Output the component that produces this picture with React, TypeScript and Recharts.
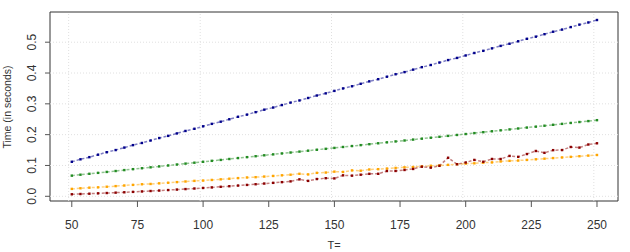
import React from "react";
import { LineChart, Line, XAxis, YAxis, ReferenceLine, ReferenceArea } from "recharts";

// problem size T (x axis)
const T = [
  50, 53.3, 56.7, 60, 63.3, 66.7, 70, 73.3, 76.7, 80, 83.3, 86.7, 90, 93.3, 96.7,
  100, 103.3, 106.7, 110, 113.3, 116.7, 120, 123.3, 126.7, 130, 133.3, 136.7, 140, 143.3, 146.7,
  150, 153.3, 156.7, 160, 163.3, 166.7, 170, 173.3, 176.7, 180, 183.3, 186.7, 190, 193.3, 196.7,
  200, 203.3, 206.7, 210, 213.3, 216.7, 220, 223.3, 226.7, 230, 233.3, 236.7, 240, 243.3, 246.7, 250,
];

const blueTimes = [
  0.112, 0.12, 0.127, 0.135, 0.143, 0.15, 0.158, 0.166, 0.173, 0.181, 0.189, 0.196, 0.204, 0.212, 0.219,
  0.227, 0.235, 0.242, 0.25, 0.258, 0.265, 0.273, 0.281, 0.288, 0.296, 0.304, 0.311, 0.319, 0.327, 0.334,
  0.342, 0.35, 0.357, 0.365, 0.373, 0.38, 0.388, 0.396, 0.403, 0.411, 0.419, 0.426, 0.434, 0.442, 0.449,
  0.457, 0.465, 0.472, 0.48, 0.488, 0.495, 0.503, 0.511, 0.518, 0.526, 0.534, 0.541, 0.549, 0.557, 0.564, 0.572,
];

const greenTimes = [
  0.067, 0.07, 0.073, 0.076, 0.079, 0.082, 0.085, 0.088, 0.091, 0.094, 0.097, 0.1, 0.103, 0.106, 0.109,
  0.112, 0.115, 0.118, 0.121, 0.124, 0.127, 0.13, 0.133, 0.136, 0.139, 0.142, 0.145, 0.148, 0.151, 0.154,
  0.157, 0.16, 0.163, 0.166, 0.169, 0.172, 0.175, 0.178, 0.181, 0.184, 0.187, 0.19, 0.193, 0.196, 0.199,
  0.202, 0.205, 0.208, 0.211, 0.214, 0.217, 0.22, 0.223, 0.226, 0.229, 0.232, 0.235, 0.238, 0.241, 0.244, 0.247,
];

const orangeTimes = [
  0.024, 0.026, 0.028, 0.029, 0.031, 0.033, 0.035, 0.037, 0.039, 0.04, 0.042, 0.044, 0.046, 0.048, 0.05,
  0.051, 0.053, 0.055, 0.057, 0.059, 0.061, 0.062, 0.064, 0.066, 0.068, 0.07, 0.073, 0.071, 0.076, 0.077,
  0.08, 0.079, 0.084, 0.083, 0.087, 0.088, 0.09, 0.092, 0.094, 0.095, 0.097, 0.099, 0.1, 0.102, 0.104,
  0.106, 0.107, 0.109, 0.11, 0.113, 0.115, 0.116, 0.118, 0.12, 0.122, 0.124, 0.126, 0.128, 0.13, 0.132, 0.134,
];

const redTimes = [
  0.0065, 0.0074, 0.0084, 0.0095, 0.0106, 0.0118, 0.013, 0.0143, 0.0157, 0.0171, 0.0186, 0.0202, 0.0218, 0.0234, 0.0252,
  0.027, 0.0288, 0.0308, 0.0327, 0.0348, 0.0369, 0.0391, 0.0413, 0.0436, 0.0459, 0.0484, 0.055, 0.05, 0.056, 0.0587,
  0.058, 0.068, 0.067, 0.07, 0.0729, 0.073, 0.082, 0.0822, 0.0854, 0.0887, 0.096, 0.093, 0.0989, 0.125, 0.104,
  0.1097, 0.118, 0.112, 0.1211, 0.121, 0.131, 0.128, 0.1371, 0.147, 0.141, 0.1497, 0.15, 0.16, 0.158, 0.168, 0.172,
];

const xTicks = [50, 75, 100, 125, 150, 175, 200, 225, 250];
const yTicks = [0, 0.1, 0.2, 0.3, 0.4, 0.5];
const gridX = [48.8, 98.9, 148.9, 198.9, 248.8];

const X_DOMAIN: [number, number] = [41.7, 258];
const Y_DOMAIN: [number, number] = [-0.0153, 0.598];

const series = [
  { key: "blue", values: blueTimes, color: "#00008B" },
  { key: "green", values: greenTimes, color: "#228B22" },
  { key: "orange", values: orangeTimes, color: "#FFA500" },
  { key: "red", values: redTimes, color: "#8B0000" },
];

const data = T.map((t, i) => {
  const row: any = { t };
  series.forEach((s) => {
    row[s.key] = s.values[i];
  });
  return row;
});

const FONT = "'Liberation Sans', Arial, Helvetica, sans-serif";
const TEXT = "#333";

const XTick = (props: any) => {
  const { x, y, payload } = props;
  return (
    <text x={x} y={y + 20} textAnchor="middle" fontSize={12} fontFamily={FONT} fill={TEXT}>
      {payload.value}
    </text>
  );
};

const YTick = (props: any) => {
  const { y, payload } = props;
  const px = 36.5;
  return (
    <text
      x={px}
      y={y}
      textAnchor="middle"
      transform={`rotate(-90, ${px}, ${y})`}
      fontSize={12}
      fontFamily={FONT}
      fill={TEXT}
    >
      {payload.value.toFixed(1)}
    </text>
  );
};

const squareDot = (color: string) => (props: any) => {
  const { cx, cy, index } = props;
  if (cx == null || cy == null) return <g key={index} />;
  return <rect key={index} x={cx - 1.2} y={cy - 1.2} width={2.4} height={2.4} fill={color} />;
};

const App: React.FC = () => {
  return (
    <div style={{ position: "absolute", left: 0, top: 0, width: 630, height: 252, background: "#fff" }}>
      <LineChart width={630} height={252} data={data} margin={{ top: 12, right: 12, bottom: 0, left: 0 }}>
        {yTicks.map((v) => (
          <ReferenceLine key={`gy-${v}`} y={v} stroke="#e0e0e0" strokeDasharray="1 2" />
        ))}
        {gridX.map((v) => (
          <ReferenceLine key={`gx-${v}`} x={v} stroke="#e0e0e0" strokeDasharray="1 2" />
        ))}
        <XAxis
          type="number"
          dataKey="t"
          domain={X_DOMAIN}
          ticks={xTicks}
          allowDataOverflow
          height={51}
          axisLine={false}
          tickLine={{ stroke: "#555" }}
          tickSize={6}
          tick={<XTick />}
          interval={0}
        />
        <YAxis
          type="number"
          domain={Y_DOMAIN}
          ticks={yTicks}
          allowDataOverflow
          width={50}
          axisLine={false}
          tickLine={{ stroke: "#555" }}
          tickSize={5}
          tick={<YTick />}
          interval={0}
        />
        {series.map((s) => (
          <Line
            key={s.key}
            type="linear"
            dataKey={s.key}
            stroke={s.color}
            strokeOpacity={0.5}
            strokeWidth={1.5}
            strokeDasharray="3 2"
            dot={squareDot(s.color)}
            activeDot={false}
            isAnimationActive={false}
          />
        ))}
        <ReferenceArea
          x1={X_DOMAIN[0]}
          x2={X_DOMAIN[1]}
          y1={Y_DOMAIN[0]}
          y2={Y_DOMAIN[1]}
          fill="none"
          stroke="#333"
          strokeWidth={1}
          ifOverflow="visible"
        />
      </LineChart>
      <svg
        width={630}
        height={252}
        style={{ position: "absolute", left: 0, top: 0, pointerEvents: "none" }}
      >
        <text
          x={11}
          y={107}
          textAnchor="middle"
          transform="rotate(-90, 11, 107)"
          fontSize={10.5}
          fontFamily={FONT}
          fill={TEXT}
        >
          Time (in seconds)
        </text>
        <text x={334} y={249} textAnchor="middle" fontSize={11} fontFamily={FONT} fill={TEXT}>
          T=
        </text>
      </svg>
    </div>
  );
};

export default App;
